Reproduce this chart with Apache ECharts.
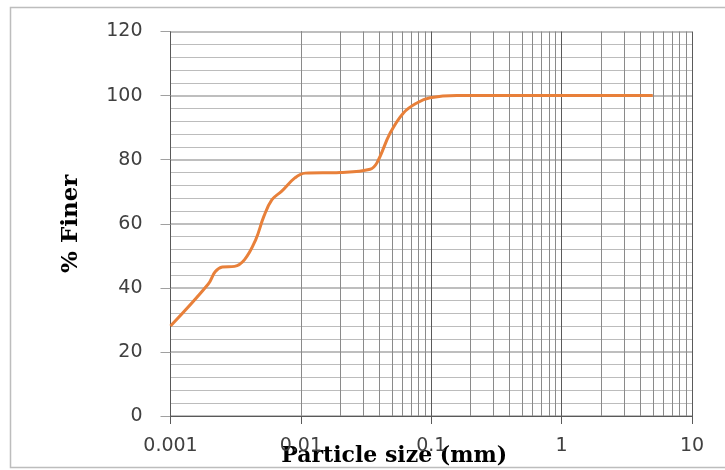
<!DOCTYPE html>
<html>
<head>
<meta charset="utf-8">
<script src="https://cdn.jsdelivr.net/npm/echarts@6/dist/echarts.min.js"></script>
<style>
html,body{margin:0;padding:0;background:#fff;}
#chart{width:725px;height:470px;}
</style>
</head>
<body>
<div id="chart"></div>
<script>
// Particle size (mm) and % finer
const particleSize = [0.001, 0.00195, 0.0022, 0.0025, 0.0031, 0.0037, 0.0045, 0.0052, 0.006, 0.0071, 0.009, 0.0108, 0.02, 0.034, 0.0383, 0.0484, 0.0612, 0.0775, 0.098, 0.157, 0.5, 1, 2, 5];
const percentFiner = [28.1, 41.2, 45, 46.5, 46.7, 48.8, 55, 62.3, 67.5, 70.1, 74.3, 75.8, 76, 77, 79, 88.3, 94.6, 97.7, 99.3, 100, 100, 100, 100, 100];
const xTickLabels = ['0.001', '0.01', '0.1', '1', '10'];
const yTickLabels = ['0', '20', '40', '60', '80', '100', '120'];
const decades = [0.001, 0.01, 0.1, 1];
const minorMultipliers = [2, 3, 4, 5, 6, 7, 8, 9];

const minorX = [];
decades.forEach(d => minorMultipliers.forEach(m => minorX.push(+(d * m).toPrecision(3))));

const chart = echarts.init(document.getElementById('chart'), null, {renderer: 'canvas'});
const labelFont = {fontFamily: 'DejaVu Sans', fontSize: 19, color: '#404040'};
chart.setOption({
  animation: false,
  backgroundColor: '#fff',
  graphic: [{
    type: 'rect', z: 100,
    shape: {x: 10.5, y: 7.5, width: 730, height: 460},
    style: {fill: null, stroke: '#bdbdbd', lineWidth: 1.5}
  }],
  grid: {left: 170.5, right: 33, top: 31.5, bottom: 54, containLabel: false, outerBoundsMode: 'none'},
  xAxis: {
    type: 'log', logBase: 10, min: 0.001, max: 10,
    name: 'Particle size (mm)', nameLocation: 'middle', nameGap: 29, nameMoveOverlap: false,
    nameTextStyle: {fontFamily: 'DejaVu Serif', fontWeight: 'bold', fontSize: 22, color: '#000', padding: [0, 74, 0, 0]},
    axisLine: {show: true, lineStyle: {color: '#595959', width: 1}},
    axisTick: {show: true, length: 8, lineStyle: {color: '#595959'}},
    axisLabel: Object.assign({margin: 21, formatter: v => {
      const i = Math.round(Math.log10(v)) + 3;
      return xTickLabels[i] !== undefined ? xTickLabels[i] : '';
    }}, labelFont),
    splitLine: {show: true, lineStyle: {color: '#5a5a5a', width: 1}},
    minorTick: {show: false},
    minorSplitLine: {show: false}
  },
  yAxis: {
    type: 'value', min: 0, max: 120, interval: 20,
    name: '% Finer', nameLocation: 'middle', nameGap: 88, nameRotate: 90,
    nameTextStyle: {fontFamily: 'DejaVu Serif', fontWeight: 'bold', fontSize: 23, color: '#000'},
    axisLine: {show: true, lineStyle: {color: '#595959', width: 1}},
    axisTick: {show: true, length: 10, lineStyle: {color: '#a0a0a0'}},
    axisLabel: Object.assign({margin: 28, formatter: v => {
      const i = Math.round(v / 20);
      return yTickLabels[i] !== undefined ? yTickLabels[i] : '';
    }}, labelFont),
    splitLine: {show: true, lineStyle: {color: '#a8a8a8', width: 1.5}},
    minorTick: {show: true, splitNumber: 5, length: 0, lineStyle: {width: 0, opacity: 0}},
    minorSplitLine: {show: true, lineStyle: {color: '#bcbcbc', width: 1}}
  },
  series: [{
    type: 'line', data: [], z: 1, silent: true,
    markLine: {
      silent: true, symbol: ['none', 'none'], animation: false,
      label: {show: false},
      lineStyle: {color: '#8a8a8a', width: 1, type: 'solid'},
      emphasis: {disabled: true},
      data: minorX.map(v => ({xAxis: v}))
    }
  }, {
    type: 'line', z: 5,
    data: particleSize.map((s, i) => [s, percentFiner[i]]),
    smooth: 0.4,
    showSymbol: false, symbol: 'none',
    lineStyle: {color: '#E8803A', width: 3}
  }]
});
</script>
</body>
</html>
